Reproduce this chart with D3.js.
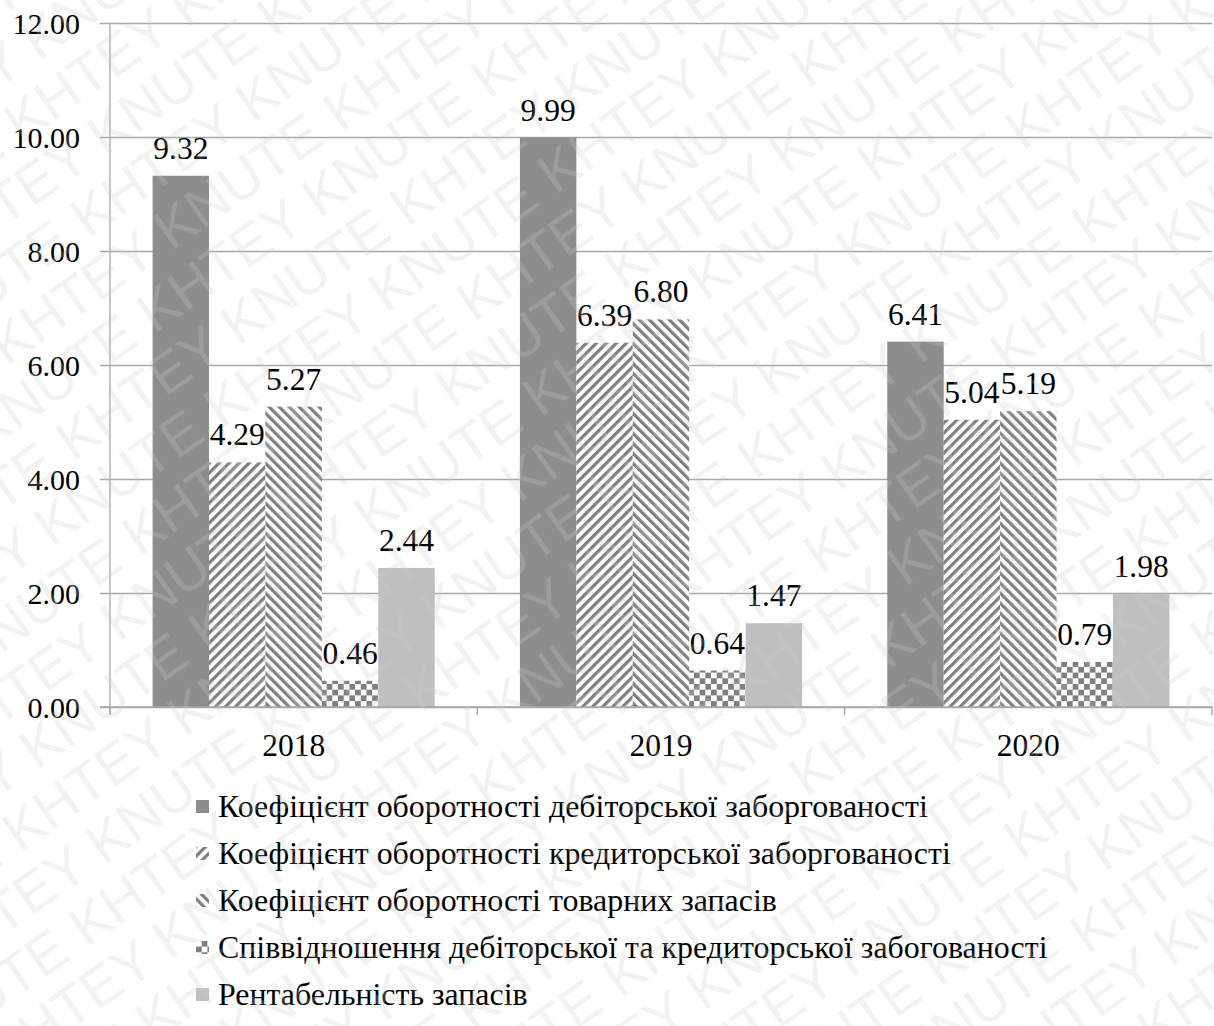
<!DOCTYPE html>
<html>
<head>
<meta charset="utf-8">
<script src="https://cdn.jsdelivr.net/npm/d3@7"></script>
<style>
  html, body { margin: 0; padding: 0; background: #fff; }
  svg { display: block; }
  .serif { font-family: "Liberation Serif", "Times New Roman", "DejaVu Serif", serif; }
  .wm { font-family: "Liberation Sans", Arial, sans-serif; }
</style>
</head>
<body>
<svg id="chart" width="1214" height="1026"></svg>
<script>
// Years on the category axis
const years = ["2018", "2019", "2020"];

// Series names (legend order)
const seriesNames = [
  "Коефіцієнт оборотності дебіторської заборгованості",
  "Коефіцієнт оборотності кредиторської заборгованості",
  "Коефіцієнт оборотності товарних запасів",
  "Співвідношення дебіторської та кредиторської забогованості",
  "Рентабельність запасів"
];

// Values per series, one per year
const receivablesTurnover = [9.32, 9.99, 6.41];
const payablesTurnover    = [4.29, 6.39, 5.04];
const inventoryTurnover   = [5.27, 6.80, 5.19];
const receivablesPayables = [0.46, 0.64, 0.79];
const inventoryReturn     = [2.44, 1.47, 1.98];

// Y axis ticks
const yTicks = [0, 2, 4, 6, 8, 10, 12];

const seriesValues = [receivablesTurnover, payablesTurnover, inventoryTurnover, receivablesPayables, inventoryReturn];

const svg = d3.select("#chart");
const W = 1214, H = 1026;
const FS_TICK = 30, FS_LABEL = 31.5, FS_LEGEND = 31.9;

// Fill patterns
const defs = svg.append("defs");
const ink = "#7f7f7f";

function stripes(id, angle) {
  const p = defs.append("pattern")
    .attr("id", id)
    .attr("patternUnits", "userSpaceOnUse")
    .attr("width", 7.07).attr("height", 7.07)
    .attr("patternTransform", `rotate(${angle})`);
  p.append("rect").attr("width", 7.07).attr("height", 7.07).attr("fill", "#fff");
  p.append("rect").attr("width", 3.2).attr("height", 7.07).attr("fill", ink);
}
stripes("upDiag", 45);
stripes("downDiag", -45);

const chk = defs.append("pattern")
  .attr("id", "checker")
  .attr("patternUnits", "userSpaceOnUse")
  .attr("width", 11.4).attr("height", 11.4);
chk.append("rect").attr("width", 11.4).attr("height", 11.4).attr("fill", "#fff");
chk.append("rect").attr("width", 5.7).attr("height", 5.7).attr("fill", ink);
chk.append("rect").attr("x", 5.7).attr("y", 5.7).attr("width", 5.7).attr("height", 5.7).attr("fill", ink);

const fills = ["#8d8d8d", "url(#upDiag)", "url(#downDiag)", "url(#checker)", "#bfbfbf"];

// Scales
const plot = { left: 110, right: 1212, top: 23, bottom: 707 };
const x0 = d3.scaleBand().domain(years).range([plot.left, plot.right]).paddingInner(0).paddingOuter(0);
const x1 = d3.scaleBand().domain(d3.range(seriesNames.length)).range([0, x0.bandwidth()])
  .paddingInner(0).paddingOuter(0.755);
const y = d3.scaleLinear().domain([0, 12]).range([plot.bottom, plot.top]);

const gridColor = "#a6a6a6";

// Gridlines with y tick labels
const yAxis = d3.axisLeft(y).tickValues(yTicks)
  .tickSize(-(plot.right - plot.left + 10))
  .tickPadding(20)
  .tickFormat(d3.format(".2f"));
const gy = svg.append("g").attr("transform", `translate(${plot.left - 10},0)`).call(yAxis);
gy.attr("font-family", null).attr("font-size", null);
gy.select(".domain").remove();
gy.selectAll(".tick line").attr("stroke", gridColor).attr("stroke-width", 1.3);
gy.selectAll(".tick text").attr("class", "serif").attr("font-size", FS_TICK).attr("fill", "#000")
  .attr("dy", "0.34em");

// Vertical axis line
svg.append("line")
  .attr("x1", plot.left).attr("x2", plot.left)
  .attr("y1", plot.top).attr("y2", plot.bottom + 8)
  .attr("stroke", gridColor).attr("stroke-width", 1.3);

// Bars
const groups = svg.append("g").selectAll("g")
  .data(years)
  .join("g")
  .attr("transform", d => `translate(${x0(d)},0)`);

groups.selectAll("rect")
  .data((yr, i) => seriesValues.map((vals, s) => ({ s, v: vals[i] })))
  .join("rect")
  .attr("x", d => x1(d.s))
  .attr("width", x1.bandwidth())
  .attr("y", d => y(d.v))
  .attr("height", d => y(0) - y(d.v))
  .attr("fill", d => fills[d.s]);

// Value labels
groups.selectAll("text")
  .data((yr, i) => seriesValues.map((vals, s) => ({ s, v: vals[i] })))
  .join("text")
  .attr("class", "serif")
  .attr("x", d => x1(d.s) + x1.bandwidth() / 2)
  .attr("y", d => y(d.v) - 17)
  .attr("text-anchor", "middle")
  .attr("font-size", FS_LABEL).attr("fill", "#000")
  .text(d => d.v.toFixed(2));

// Category axis
const xAxis = d3.axisBottom(x0).tickSize(0).tickPadding(27);
const gx = svg.append("g").attr("transform", `translate(0,${plot.bottom})`).call(xAxis);
gx.attr("font-family", null).attr("font-size", null);
gx.select(".domain").remove();
gx.selectAll(".tick text").attr("class", "serif").attr("font-size", FS_LABEL).attr("fill", "#000");

svg.append("line")
  .attr("x1", plot.left - 10).attr("x2", plot.right)
  .attr("y1", plot.bottom).attr("y2", plot.bottom)
  .attr("stroke", gridColor).attr("stroke-width", 1.3);
svg.append("g").selectAll("line")
  .data(years.map(d => x0(d)).concat([plot.right]))
  .join("line")
  .attr("x1", d => d).attr("x2", d => d)
  .attr("y1", plot.bottom).attr("y2", plot.bottom + 8)
  .attr("stroke", gridColor).attr("stroke-width", 1.3);

// Legend
const legend = svg.append("g").attr("transform", "translate(196,0)");
const rows = legend.selectAll("g")
  .data(seriesNames)
  .join("g")
  .attr("transform", (d, i) => `translate(0,${817 + i * 47})`);
rows.append("rect")
  .attr("x", 0).attr("y", -17).attr("width", 13).attr("height", 13)
  .attr("fill", (d, i) => fills[i]);
rows.append("text")
  .attr("class", "serif")
  .attr("x", 22).attr("y", 0)
  .attr("font-size", FS_LEGEND).attr("fill", "#000")
  .text(d => d);

// Diagonal "KHTEY KNUTE" watermark laid over everything
const wmAngle = -35, wmStep = 408, wmRow = 58;
const rad = wmAngle * Math.PI / 180;
const wmCells = [];
for (let r = -16; r <= 16; r++) {
  for (let k = -4; k <= 3; k++) {
    const lx = k * wmStep + (r % 2 ? 140 : 0);
    const ly = r * wmRow;
    // centre of this word pair after rotation about the picture centre
    const cx = lx + wmStep / 2 - 14, cy = ly - 20;
    const px = W / 2 + cx * Math.cos(rad) - cy * Math.sin(rad);
    const py = H / 2 + cx * Math.sin(rad) + cy * Math.cos(rad);
    if (px > -180 && px < W + 180 && py > -130 && py < H + 130) wmCells.push({ lx, ly });
  }
}
const wm = svg.append("g")
  .attr("transform", `translate(${W / 2},${H / 2}) rotate(${wmAngle})`)
  .attr("opacity", 0.24)
  .attr("pointer-events", "none");
wm.selectAll("text")
  .data(wmCells)
  .join("text")
  .attr("class", "wm")
  .attr("x", d => d.lx)
  .attr("y", d => d.ly)
  .attr("font-size", 56)
  .attr("fill", "#cdcdcd")
  .text("KHTEY KNUTE");
</script>
</body>
</html>
